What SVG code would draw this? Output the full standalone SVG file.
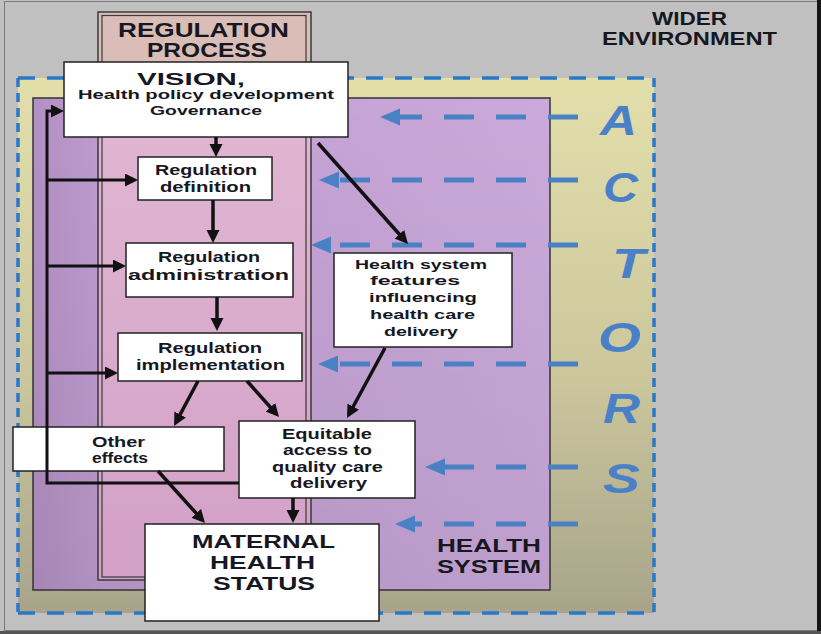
<svg xmlns="http://www.w3.org/2000/svg" width="821" height="634" viewBox="0 0 821 634">
  <defs>
    <linearGradient id="actorsFill" x1="0" y1="0" x2="0" y2="1">
      <stop offset="0" stop-color="#e3dfab"/>
      <stop offset="0.55" stop-color="#ccc79c"/>
      <stop offset="1" stop-color="#a8a48b"/>
    </linearGradient>
    <linearGradient id="hsFill" x1="0" y1="0" x2="1" y2="0">
      <stop offset="0" stop-color="#b390c4"/>
      <stop offset="0.14" stop-color="#c09dd0"/>
      <stop offset="1" stop-color="#cbaadb"/>
    </linearGradient>
    <linearGradient id="hsShade" x1="0" y1="0" x2="0" y2="1">
      <stop offset="0" stop-color="#000" stop-opacity="0"/>
      <stop offset="1" stop-color="#000" stop-opacity="0.07"/>
    </linearGradient>
    <linearGradient id="regFill" x1="0" y1="0" x2="0" y2="1">
      <stop offset="0" stop-color="#e0b7d2"/>
      <stop offset="1" stop-color="#d3a0c7"/>
    </linearGradient>
    <marker id="blackHead" markerUnits="userSpaceOnUse" markerWidth="14" markerHeight="14" refX="5" refY="6.5" orient="auto">
      <path d="M0,0 L13,6.5 L0,13 z" fill="#111"/>
    </marker>
    <marker id="blueHead" markerUnits="userSpaceOnUse" markerWidth="22" markerHeight="18" refX="4" refY="8.5" orient="auto">
      <path d="M0,0 L20,8.5 L0,17 z" fill="#4a80c4"/>
    </marker>
  </defs>
  <style>
    .box { fill: #ffffff; stroke: #222; stroke-width: 1.5; }
    .lbl { font-family: "Liberation Sans", Arial, sans-serif; font-weight: bold; fill: #17171f; }
    .actor { font-family: "Liberation Sans", Arial, sans-serif; font-weight: bold; font-style: italic; font-size: 42px; fill: #4a80c8; }
    .conn { fill: none; stroke: #111; stroke-width: 3.5; }
    .loop { fill: none; stroke: #111; stroke-width: 3; }
    .infl { fill: none; stroke: #4a80c4; stroke-width: 5; stroke-dasharray: 30 22; marker-end: url(#blueHead); }
    .edgeH { stroke: #2a78c8; stroke-width: 3.5; stroke-dasharray: 17 12; }
    .edgeV { stroke: #2a78c8; stroke-width: 3.5; stroke-dasharray: 9 6; }
  </style>

  <!-- wider environment -->
  <g id="wider-environment">
    <rect x="0" y="0" width="821" height="634" fill="#c0c0c0"/>
    <rect x="4.5" y="1.5" width="813" height="629" fill="none" stroke="#7a7a7a" stroke-width="1"/>
    <rect x="817" y="0" width="4" height="634" fill="#151515"/>
    <rect x="0" y="631" width="821" height="3" fill="#555"/>
    <text class="lbl" font-size="18" x="652" y="25" textLength="75" lengthAdjust="spacingAndGlyphs">WIDER</text>
    <text class="lbl" font-size="18" x="602" y="45" textLength="175" lengthAdjust="spacingAndGlyphs">ENVIRONMENT</text>
  </g>

  <!-- actors area -->
  <g id="actors">
    <rect x="18" y="78" width="636" height="535" fill="url(#actorsFill)"/>
    <line class="edgeH" x1="18" y1="78" x2="654" y2="78"/>
    <line class="edgeH" x1="18" y1="613" x2="654" y2="613"/>
    <line class="edgeV" x1="18" y1="78" x2="18" y2="613"/>
    <line class="edgeV" x1="654" y1="78" x2="654" y2="613"/>
    <text class="actor" x="600" y="135" textLength="37" lengthAdjust="spacingAndGlyphs">A</text>
    <text class="actor" x="603" y="202" textLength="35" lengthAdjust="spacingAndGlyphs">C</text>
    <text class="actor" x="612" y="278" textLength="33" lengthAdjust="spacingAndGlyphs">T</text>
    <text class="actor" x="598" y="352" textLength="43" lengthAdjust="spacingAndGlyphs">O</text>
    <text class="actor" x="603" y="423" textLength="37" lengthAdjust="spacingAndGlyphs">R</text>
    <text class="actor" x="603" y="493" textLength="37" lengthAdjust="spacingAndGlyphs">S</text>
  </g>

  <!-- health system -->
  <g id="health-system">
    <rect x="33" y="98" width="517" height="492" fill="url(#hsFill)"/>
    <rect x="33" y="98" width="517" height="492" fill="url(#hsShade)" stroke="#333" stroke-width="1.5"/>
    <text class="lbl" font-size="18" x="437" y="552" textLength="104" lengthAdjust="spacingAndGlyphs">HEALTH</text>
    <text class="lbl" font-size="18" x="437" y="573" textLength="104" lengthAdjust="spacingAndGlyphs">SYSTEM</text>
  </g>

  <!-- regulation process frame -->
  <g id="regulation-process">
    <rect x="98" y="12" width="213" height="86" fill="#d9bdb6"/>
    <rect x="98" y="98" width="213" height="482" fill="url(#regFill)"/>
    <rect x="98" y="12" width="213" height="568" fill="none" stroke="#3a3a3a" stroke-width="1.5"/>
    <rect x="102" y="15.5" width="204" height="561.5" fill="none" stroke="#3a3a3a" stroke-width="1.2"/>
    <text class="lbl" font-size="20" x="118" y="37" textLength="171" lengthAdjust="spacingAndGlyphs">REGULATION</text>
    <text class="lbl" font-size="20" x="147" y="57" textLength="120" lengthAdjust="spacingAndGlyphs">PROCESS</text>
  </g>

  <!-- actor influences -->
  <g id="actor-influences">
    <path class="infl" d="M578,117 H396"/>
    <path class="infl" d="M578,180 H335"/>
    <path class="infl" d="M578,245 H327"/>
    <path class="infl" d="M578,364 H334"/>
    <path class="infl" d="M578,467 H441"/>
    <path class="infl" d="M578,524 H411"/>
  </g>

  <g id="vision">
    <rect class="box" x="64" y="62" width="284" height="75"/>
    <text class="lbl" font-size="16" x="137" y="84.5" textLength="108" lengthAdjust="spacingAndGlyphs">VISION,</text>
    <text class="lbl" font-size="12" x="78" y="99" textLength="256" lengthAdjust="spacingAndGlyphs">Health policy development</text>
    <text class="lbl" font-size="12.5" x="150" y="115" textLength="112" lengthAdjust="spacingAndGlyphs">Governance</text>
  </g>

  <g id="regulation-definition">
    <rect class="box" x="138" y="157" width="134" height="43"/>
    <text class="lbl" font-size="15" x="155" y="175" textLength="102" lengthAdjust="spacingAndGlyphs">Regulation</text>
    <text class="lbl" font-size="15" x="160" y="192" textLength="91" lengthAdjust="spacingAndGlyphs">definition</text>
  </g>

  <g id="regulation-administration">
    <rect class="box" x="126" y="243" width="167" height="54"/>
    <text class="lbl" font-size="15" x="158" y="262" textLength="102" lengthAdjust="spacingAndGlyphs">Regulation</text>
    <text class="lbl" font-size="15" x="128" y="280" textLength="161" lengthAdjust="spacingAndGlyphs">administration</text>
  </g>

  <g id="regulation-implementation">
    <rect class="box" x="118" y="333" width="184" height="48"/>
    <text class="lbl" font-size="15" x="158" y="353" textLength="104" lengthAdjust="spacingAndGlyphs">Regulation</text>
    <text class="lbl" font-size="15" x="136" y="370" textLength="149" lengthAdjust="spacingAndGlyphs">implementation</text>
  </g>

  <g id="health-system-features">
    <rect class="box" x="334" y="253" width="178" height="94"/>
    <text class="lbl" font-size="13" x="355" y="269" textLength="132" lengthAdjust="spacingAndGlyphs">Health system</text>
    <text class="lbl" font-size="13" x="370" y="285" textLength="90" lengthAdjust="spacingAndGlyphs">features</text>
    <text class="lbl" font-size="13" x="369" y="302" textLength="108" lengthAdjust="spacingAndGlyphs">influencing</text>
    <text class="lbl" font-size="13" x="370" y="319" textLength="105" lengthAdjust="spacingAndGlyphs">health care</text>
    <text class="lbl" font-size="13" x="384" y="336" textLength="74" lengthAdjust="spacingAndGlyphs">delivery</text>
  </g>

  <g id="other-effects">
    <rect class="box" x="13" y="427" width="211" height="44"/>
    <text class="lbl" font-size="14" x="92" y="447" textLength="53" lengthAdjust="spacingAndGlyphs">Other</text>
    <text class="lbl" font-size="14" x="92" y="463" textLength="56" lengthAdjust="spacingAndGlyphs">effects</text>
  </g>

  <g id="equitable-access">
    <rect class="box" x="239" y="421" width="176" height="77"/>
    <text class="lbl" font-size="14" x="282" y="439" textLength="90" lengthAdjust="spacingAndGlyphs">Equitable</text>
    <text class="lbl" font-size="14" x="283" y="455" textLength="89" lengthAdjust="spacingAndGlyphs">access to</text>
    <text class="lbl" font-size="14" x="272" y="472" textLength="111" lengthAdjust="spacingAndGlyphs">quality care</text>
    <text class="lbl" font-size="14" x="290" y="488" textLength="77" lengthAdjust="spacingAndGlyphs">delivery</text>
  </g>

  <g id="maternal-health-status">
    <rect class="box" x="145" y="524" width="234" height="97"/>
    <text class="lbl" font-size="18" x="192" y="548" textLength="143" lengthAdjust="spacingAndGlyphs">MATERNAL</text>
    <text class="lbl" font-size="18" x="210" y="569" textLength="105" lengthAdjust="spacingAndGlyphs">HEALTH</text>
    <text class="lbl" font-size="18" x="213" y="590" textLength="102" lengthAdjust="spacingAndGlyphs">STATUS</text>
  </g>

  <!-- connectors -->
  <g id="connectors">
    <path class="conn" d="M216,137 V149" marker-end="url(#blackHead)"/>
    <path class="conn" d="M213,200 V235" marker-end="url(#blackHead)"/>
    <path class="conn" d="M217,297 V323" marker-end="url(#blackHead)"/>
    <path class="conn" d="M198,381 L177.8,418.9" marker-end="url(#blackHead)"/>
    <path class="conn" d="M247,381 L273.7,411" marker-end="url(#blackHead)"/>
    <path class="conn" d="M318,143 L402.7,238" marker-end="url(#blackHead)"/>
    <path class="conn" d="M385,348 L350.8,411" marker-end="url(#blackHead)"/>
    <path class="conn" d="M158,471 L199.6,517" marker-end="url(#blackHead)"/>
    <path class="conn" d="M293,498 V515" marker-end="url(#blackHead)"/>
    <!-- feedback loop back to policy and each regulation step -->
    <path class="loop" d="M239,483 H47 V111 H56" marker-end="url(#blackHead)"/>
    <path class="loop" d="M47,180 H130" marker-end="url(#blackHead)"/>
    <path class="loop" d="M47,266 H118" marker-end="url(#blackHead)"/>
    <path class="loop" d="M47,373 H110" marker-end="url(#blackHead)"/>
  </g>
</svg>
